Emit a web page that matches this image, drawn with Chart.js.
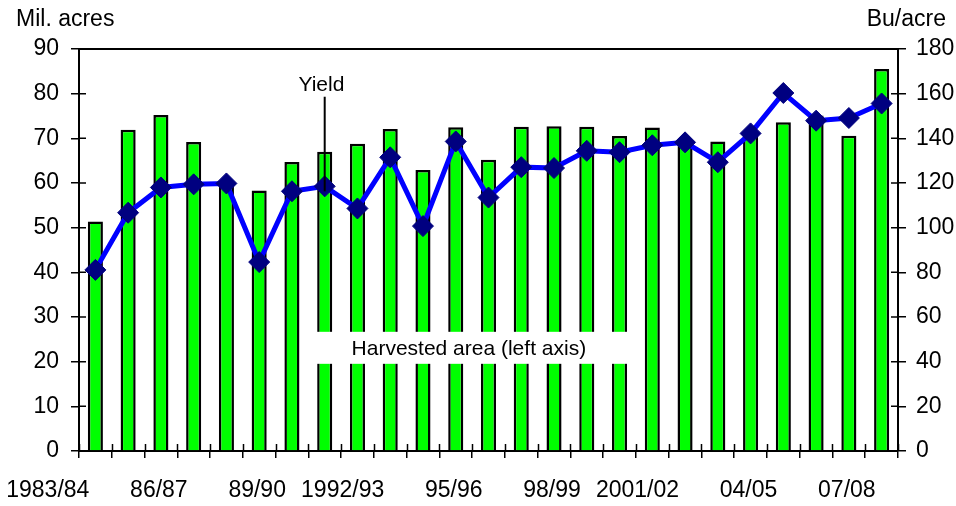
<!DOCTYPE html>
<html>
<head>
<meta charset="utf-8">
<script src="https://cdn.jsdelivr.net/npm/chart.js@4.4.0/dist/chart.umd.min.js"></script>
<style>
  body { margin: 0; background: #fff; }
  #grafico { width: 956px; height: 506px; }
</style>
</head>
<body>
<div id="grafico"><canvas id="graficoMilho"></canvas></div>
<script>
// dados

const anos = ['1983/84', '84/85', '85/86', '86/87', '87/88', '88/89', '89/90', '90/91', '91/92', '1992/93',
    '93/94', '94/95', '95/96', '96/97', '97/98', '98/99', '99/00', '2000/01', '2001/02', '02/03',
    '03/04', '04/05', '05/06', '06/07', '07/08']
const rotulosX = ['1983/84', '86/87', '89/90', '1992/93', '95/96', '98/99', '2001/02', '04/05', '07/08']

// milhoes de acres (eixo esquerdo)
const areaColhida = [51.4, 71.9, 75.2, 69.2, 59.5, 58.3, 64.7, 67.0, 68.8, 72.1, 62.9, 72.5, 65.2,
    72.6, 72.7, 72.6, 70.5, 72.4, 68.8, 69.3, 70.9, 73.6, 75.1, 70.6, 85.5]

// bushels por acre (eixo direito)
const produtividade = [81.1, 106.7, 118.0, 119.4, 119.8, 84.6, 116.3, 118.5, 108.6, 131.5, 100.7, 138.6,
    113.5, 127.1, 126.7, 134.4, 133.8, 136.9, 138.2, 129.3, 142.2, 160.3, 147.9, 149.1, 155.6]

const tituloEsq = 'Mil. acres'
const tituloDir = 'Bu/acre'
const textoArea = 'Harvested area (left axis)'
const textoYield = 'Yield'

Chart.defaults.font.family = "'Liberation Sans', Arial, sans-serif"
Chart.defaults.color = '#000'

// moldura, tracinhos pra dentro e os textos soltos
const extras = {
    id: 'extras',
    afterDatasetsDraw(chart) {
        const ctx = chart.ctx
        const a = chart.chartArea
        const x = chart.scales.x
        const yE = chart.scales.yEsq
        const yD = chart.scales.yDir
        ctx.save()

        ctx.strokeStyle = '#000'
        ctx.lineWidth = 2
        ctx.beginPath()
        ctx.moveTo(a.left - 1, a.top)
        ctx.lineTo(a.right + 1, a.top)
        ctx.stroke()

        ctx.lineWidth = 1.5
        ctx.beginPath()
        for (let i = 0; i <= anos.length; i++) {
            let px = Math.round(x.getPixelForValue(i - 0.5)) + 0.5
            ctx.moveTo(px, a.bottom)
            ctx.lineTo(px, a.bottom - 7)
        }
        yE.ticks.forEach((t, i) => {
            let py = yE.getPixelForTick(i)
            ctx.moveTo(a.left, py)
            ctx.lineTo(a.left + 7, py)
        })
        yD.ticks.forEach((t, i) => {
            let py = yD.getPixelForTick(i)
            ctx.moveTo(a.right, py)
            ctx.lineTo(a.right - 7, py)
        })
        ctx.stroke()

        // caixa branca da area colhida
        let cx = x.getPixelForValue(11.4)
        let cy = yE.getPixelForValue(23.1)
        ctx.fillStyle = '#fff'
        ctx.fillRect(cx - 163, cy - 16, 326, 32)
        ctx.fillStyle = '#000'
        ctx.font = "21px 'Liberation Sans', Arial, sans-serif"
        ctx.textAlign = 'center'
        ctx.textBaseline = 'middle'
        ctx.fillText(textoArea, cx, cy + 1)

        // Yield com a setinha
        let lx = x.getPixelForValue(6.9)
        let ly = yD.getPixelForValue(164)
        ctx.fillText(textoYield, lx, ly)
        let px = x.getPixelForValue(7)
        ctx.lineWidth = 2
        ctx.beginPath()
        ctx.moveTo(px, ly + 12)
        ctx.lineTo(px, yD.getPixelForValue(produtividade[7]) + 5)
        ctx.stroke()

        // titulos dos eixos
        ctx.font = "23px 'Liberation Sans', Arial, sans-serif"
        ctx.textBaseline = 'alphabetic'
        ctx.textAlign = 'left'
        ctx.fillText(tituloEsq, 16, 26)
        ctx.textAlign = 'right'
        ctx.fillText(tituloDir, chart.width - 10, 26)

        ctx.restore()
    }
}

const ctxM = document.getElementById('graficoMilho')

new Chart(ctxM, {
    data: {
        labels: anos,
        datasets: [
            {
                type: 'line',
                label: 'Yield',
                data: produtividade,
                yAxisID: 'yDir',
                borderColor: '#0000ff',
                borderWidth: 5,
                pointStyle: 'rectRot',
                pointRadius: 10.5,
                pointBackgroundColor: '#000080',
                pointBorderColor: '#000080',
                pointBorderWidth: 1,
                tension: 0,
                order: 0
            },
            {
                type: 'bar',
                label: 'Harvested area',
                data: areaColhida,
                yAxisID: 'yEsq',
                backgroundColor: '#00ff00',
                borderColor: '#000',
                borderWidth: 2.5,
                barPercentage: 0.46,
                categoryPercentage: 1,
                order: 1
            }
        ]
    },
    options: {
        responsive: true,
        maintainAspectRatio: false,
        animation: false,
        layout: { padding: { top: 49 } },
        plugins: {
            legend: { display: false },
            tooltip: { enabled: false }
        },
        scales: {
            x: {
                type: 'category',
                grid: { drawOnChartArea: false, offset: true, tickLength: 7, color: '#000', lineWidth: 1.5 },
                border: { color: '#000', width: 2 },
                ticks: {
                    autoSkip: false,
                    maxRotation: 0,
                    align: 'end',
                    labelOffset: -6,
                    padding: 19,
                    font: { size: 23 },
                    callback: (v, i) => rotulosX.includes(anos[i]) ? anos[i] : ''
                },
                afterFit: s => {
                    s.height = 55
                    s.paddingLeft = 0
                    s.paddingRight = 0
                }
            },
            yEsq: {
                position: 'left',
                min: 0,
                max: 90,
                grid: { drawOnChartArea: false, tickLength: 8, color: '#000', lineWidth: 1.5 },
                border: { color: '#000', width: 2 },
                ticks: { stepSize: 10, padding: 12, font: { size: 23 } },
                afterFit: s => { s.width = 79 }
            },
            yDir: {
                position: 'right',
                min: 0,
                max: 180,
                grid: { drawOnChartArea: false, tickLength: 8, color: '#000', lineWidth: 1.5 },
                border: { color: '#000', width: 2 },
                ticks: { stepSize: 20, padding: 10, font: { size: 23 } },
                afterFit: s => { s.width = 58 }
            }
        }
    },
    plugins: [extras]
})
</script>
</body>
</html>
